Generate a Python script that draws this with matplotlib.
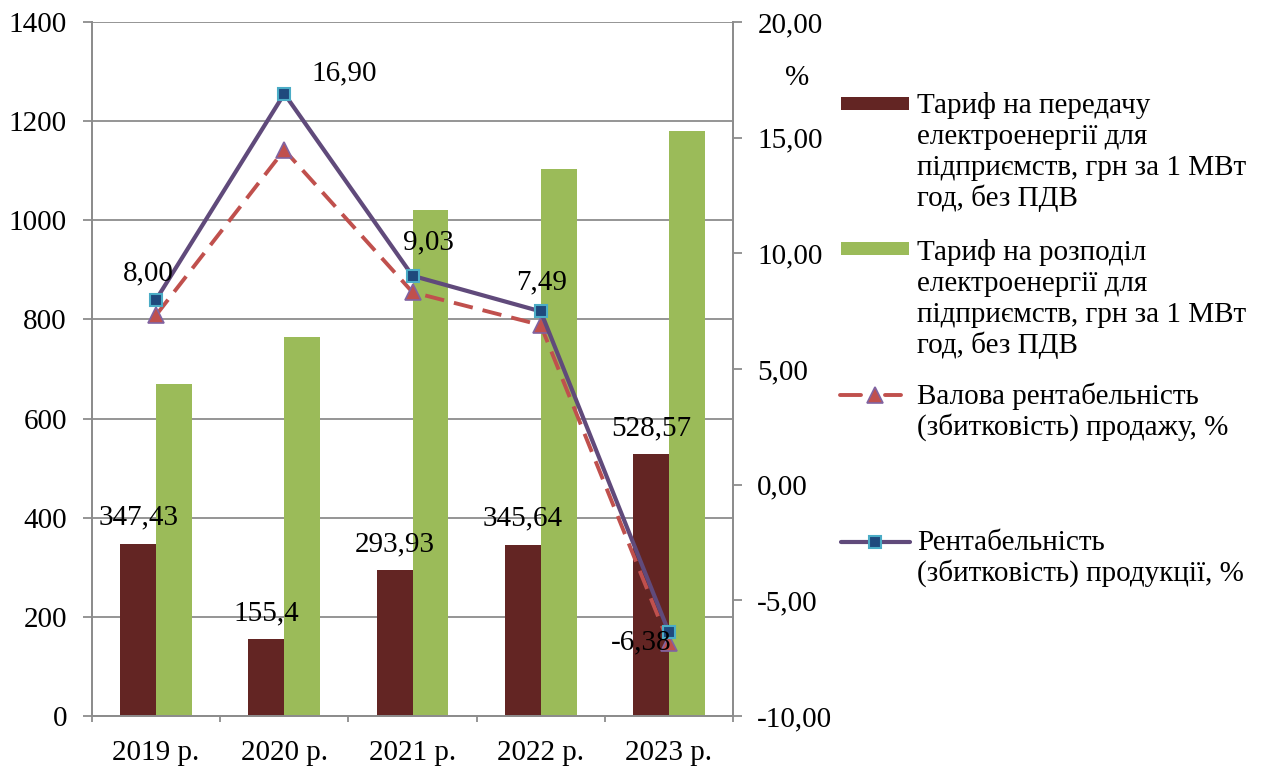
import matplotlib
matplotlib.use("Agg")
import matplotlib.pyplot as plt
from matplotlib.lines import Line2D
from matplotlib.patches import Rectangle
from matplotlib.ticker import FuncFormatter, FixedLocator
import numpy as np

plt.rcParams['font.family'] = ['Liberation Serif', 'DejaVu Serif']

years = ["2019 р.", "2020 р.", "2021 р.", "2022 р.", "2023 р."]
transmission = [347.43, 155.4, 293.93, 345.64, 528.57]
distribution = [670, 764, 1021, 1103, 1180]
gross_margin = [7.33, 14.47, 8.32, 6.90, -6.85]
product_margin = [8.00, 16.90, 9.03, 7.49, -6.38]

transmission_labels = ["347,43", "155,4", "293,93", "345,64", "528,57"]
product_labels = ["8,00", "16,90", "9,03", "7,49", "-6,38"]

legend_labels = [
    "Тариф на передачу\nелектроенергії для\nпідприємств, грн за 1 МВт\nгод, без ПДВ",
    "Тариф на розподіл\nелектроенергії для\nпідприємств, грн за 1 МВт\nгод, без ПДВ",
    "Валова рентабельність\n(збитковість) продажу, %",
    "Рентабельність\n(збитковість) продукції, %",
]

C_DARK = "#632523"
C_GREEN = "#9BBB59"
C_RED = "#C0504D"
C_PURPLE = "#604A7B"
C_GRID = "#8c8c8c"
FS = 21

W, H = 1265, 767
fig = plt.figure(figsize=(W / 100, H / 100), dpi=100)
ax = fig.add_axes([92 / W, 51 / H, 641 / W, 694 / H])
ax2 = ax.twinx()

x = np.arange(len(years))
bw = 0.28
ax.bar(x - bw / 2, transmission, bw, color=C_DARK, zorder=2)
ax.bar(x + bw / 2, distribution, bw, color=C_GREEN, zorder=2)

ax.set_xlim(-0.5, len(years) - 0.5)
ax.set_ylim(0, 1400)
ax.set_yticks(np.arange(0, 1401, 200))
ax.set_axisbelow(True)
ax.yaxis.grid(True, color=C_GRID, linewidth=1.3)
ax.set_xticks(x)
ax.set_xticklabels(years)
ax.xaxis.set_minor_locator(FixedLocator(np.arange(-0.5, len(years), 1.0)))
ax.tick_params(axis='x', which='major', length=0, pad=17, labelsize=FS)
ax.tick_params(axis='x', which='minor', length=4.5, width=1.3, color=C_GRID)
ax.tick_params(axis='y', length=6.5, width=1.3, color=C_GRID, pad=11.5, labelsize=FS)

for sp in ['top']:
    ax.spines[sp].set_visible(False)
    ax2.spines[sp].set_visible(False)
for sp in ['left', 'bottom', 'right']:
    ax.spines[sp].set_color(C_GRID)
    ax.spines[sp].set_linewidth(1.3)
    ax2.spines[sp].set_color(C_GRID)
    ax2.spines[sp].set_linewidth(1.3)

ax2.set_ylim(-10, 20)
ax2.set_yticks(np.arange(-10, 21, 5))
ax2.yaxis.set_major_formatter(FuncFormatter(lambda v, p: f"{v:.2f}".replace('.', ',')))
ax2.tick_params(axis='y', length=6.5, width=1.3, color=C_GRID, pad=11, labelsize=FS)

ax2.plot(x, gross_margin, color=C_RED, linewidth=2.8, dashes=(5, 2.6),
         marker='^', markersize=11, markerfacecolor=C_RED, markeredgecolor="#8064A2",
         markeredgewidth=1.2, zorder=3)
ax2.plot(x, product_margin, color=C_PURPLE, linewidth=3.0,
         marker='s', markersize=9, markerfacecolor="#1F497D", markeredgecolor="#4BACC6",
         markeredgewidth=1.5, zorder=4)

for xi, v, lab in zip(x, transmission, transmission_labels):
    ax.annotate(lab, (xi - bw / 2, v), xytext=(0, 18.7), textcoords='offset points',
                ha='center', va='center', fontsize=FS, zorder=5)

product_offsets = [(-5.8, 18.7), (43, 15), (11.5, 23.8), (0.7, 20.9), (-20, -7.2)]
for xi, v, lab, off in zip(x, product_margin, product_labels, product_offsets):
    ax2.annotate(lab, (xi, v), xytext=off, textcoords='offset points',
                 ha='center', va='center', fontsize=FS, zorder=5)

ax2.text(1.0998, 0.919, "%", transform=ax2.transAxes, ha='center', va='center', fontsize=FS)

# Legend (drawn manually to mimic the original layout)
def fx(px):
    return px / W

def fy(py):
    return 1 - py / H

text_base = [113, 260, 404, 550]
LINE_PX = 31
fig.add_artist(Rectangle((fx(841), fy(103 + 6.5)), 68 / W, 13 / H, transform=fig.transFigure,
                         facecolor=C_DARK, edgecolor='none'))
fig.add_artist(Rectangle((fx(841), fy(249 + 6.5)), 68 / W, 13 / H, transform=fig.transFigure,
                         facecolor=C_GREEN, edgecolor='none'))
for seg in [(840, 861), (885, 901)]:
    fig.add_artist(Line2D([fx(seg[0]), fx(seg[1])], [fy(395), fy(395)], transform=fig.transFigure,
                          color=C_RED, linewidth=2.8, solid_capstyle='round'))
fig.add_artist(Line2D([fx(875)], [fy(395)], transform=fig.transFigure, marker='^', markersize=11,
                      markerfacecolor=C_RED, markeredgecolor="#8064A2", markeredgewidth=1.2,
                      linestyle='none'))
fig.add_artist(Line2D([fx(841), fx(910)], [fy(542), fy(542)], transform=fig.transFigure,
                      color=C_PURPLE, linewidth=3.0, solid_capstyle='round'))
fig.add_artist(Line2D([fx(875)], [fy(542)], transform=fig.transFigure, marker='s', markersize=9,
                      markerfacecolor="#1F497D", markeredgecolor="#4BACC6", markeredgewidth=1.5,
                      linestyle='none'))
for lab, tb in zip(legend_labels, text_base):
    for i, line in enumerate(lab.split("\n")):
        fig.text(fx(917), fy(tb + i * LINE_PX), line, ha='left', va='baseline', fontsize=FS)

fig.savefig("out.png", dpi=100)
